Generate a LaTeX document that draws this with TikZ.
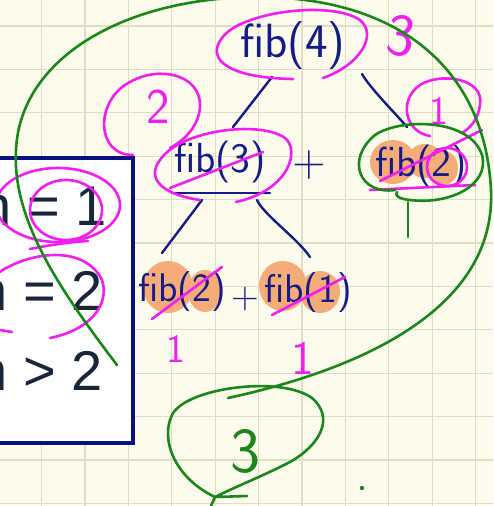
\documentclass[tikz,border=0pt]{standalone}
\usepackage{fontspec}
\newfontfamily\boxfont{Liberation Sans}
\usetikzlibrary{positioning}

\definecolor{paper}{RGB}{253,251,236}
\definecolor{gridtan}{RGB}{224,220,198}
\definecolor{inkblue}{RGB}{22,28,135}
\definecolor{pen}{RGB}{240,30,240}
\definecolor{marker}{RGB}{246,172,120}
\definecolor{leaf}{RGB}{25,135,25}
\definecolor{boxnavy}{RGB}{10,15,130}
\definecolor{boxtext}{RGB}{25,38,58}

\begin{document}
\begin{tikzpicture}[x=1pt, y=-1pt,
hand/.style={text=inkblue, inner sep=0pt, font=\sffamily\fontsize{#1}{#1}\selectfont},
pennote/.style={text=pen, inner sep=0pt, font=\sffamily\fontsize{#1}{#1}\selectfont},
leafnote/.style={text=leaf, inner sep=0pt, font=\sffamily\fontsize{#1}{#1}\selectfont},
bluepen/.style={draw=inkblue, line width=2.4pt, line cap=round, line join=round},
pinkpen/.style={draw=pen, line width=2.6pt, line cap=round, line join=round},
greenpen/.style={draw=leaf, line width=2.6pt, line cap=round, line join=round},
blob/.style={fill=marker},
gridline/.style={draw=gridtan, line width=1.2pt},
boxrow/.style={text=boxtext, inner sep=0pt, anchor=base east, font=\boxfont\fontsize{56}{56}\selectfont}
]
\useasboundingbox (0,0) rectangle (493,506);
\clip (0,0) rectangle (493,506);
\fill[paper] (0,0) rectangle (493,506);

% squared paper
\foreach \gx in {-1.9,41.5,...,500}
  \draw[gridline] (\gx,0) -- (\gx,506);
\foreach \gy in {-17.4,26,...,510}
  \draw[gridline] (0,\gy) -- (493,\gy);

% cases box
\draw[boxnavy, fill=white, line width=4pt] (-10,158) rectangle (133,443);
\node[boxrow] (caseone) at (107,225) {n = 1};
\node[boxrow] (casetwo) at (103,310) {n = 2};
\node[boxrow] (caserest) at (103,390) {n > 2};

% marker highlights
\fill[blob] (393,162) ellipse [x radius=23, y radius=22];
\fill[blob] (425,161) ellipse [x radius=18, y radius=17];
\fill[blob] (444,168) ellipse [x radius=14, y radius=17];
\fill[blob] (168,287) ellipse [x radius=25, y radius=26];
\fill[blob] (205,291) ellipse [x radius=17, y radius=21];
\fill[blob] (283,286) ellipse [x radius=24, y radius=25];
\fill[blob] (320,292) ellipse [x radius=20, y radius=21];

% call tree
\node[hand=48] (fibfour) at (293,46) {fib(4)};
\node[hand=42] (fibthree) at (220,162) {fib(3)};
\node[hand=46] (plustop) at (309,165) {+};
\node[hand=42] (fibtwoR) at (421,166) {fib(2)};
\node[hand=40] (fibtwoL) at (182,292) {fib(2)};
\node[hand=38] (plusbot) at (245,299) {+};
\node[hand=40] (fibone) at (308,293) {fib(1)};

\draw[bluepen] ([shift={(-21,31)}]fibfour.center) -- ([shift={(13,-35)}]fibthree.center);
\draw[bluepen] ([shift={(69,28)}]fibfour.center)
  .. controls +(8,14) and +(-12,-14) .. ([shift={(-14,-39)}]fibtwoR.center);
\draw[bluepen] ([shift={(-48,31)}]fibthree.center) -- ([shift={(50,31)}]fibthree.center);
\draw[bluepen] ([shift={(-18,38)}]fibthree.center) -- ([shift={(-20,-39)}]fibtwoL.center);
\draw[bluepen] ([shift={(37,38)}]fibthree.center)
  .. controls +(6,14) and +(-12,-18) .. ([shift={(2,-36)}]fibone.center);

% pink marks
\draw[pinkpen] (293,79) .. controls (230,78) and (205,60) .. (222,38)
  .. controls (240,12) and (330,0) .. (360,20) .. controls (378,35) and (360,65) .. (323,78);
\node[pennote=60, rotate=-8] (threetop) at (401,36) {3};
\draw[pinkpen] (133,155) .. controls (95,155) and (95,100) .. (130,82)
  .. controls (160,65) and (200,75) .. (200,105) .. controls (200,125) and (185,140) .. (170,148);
\node[pennote=50] (twonote) at (158,107) {2};
\draw[pinkpen] (200,200) .. controls (165,195) and (145,180) .. (160,160)
  .. controls (180,130) and (260,120) .. (285,138) .. controls (300,150) and (290,190) .. (236,202);
\draw[pinkpen] (170,188) -- (263,152);
\draw[pinkpen] (430,136) .. controls (405,132) and (398,100) .. (420,85)
  .. controls (440,72) and (485,78) .. (480,105) .. controls (478,120) and (470,128) .. (462,133);
\node[pennote=40] (onenote) at (439,111) {1};
\draw[pinkpen] (447,167) ellipse [x radius=20, y radius=19];
\draw[pinkpen] (380,181) -- (482,130);
\draw[pinkpen] (370,190) -- (475,185);
\draw[pinkpen] (58,205) ellipse [x radius=62, y radius=37];
\draw[pinkpen] (66,210) ellipse [x radius=36, y radius=30];
\draw[pinkpen] (30,249) .. controls (50,245) and (70,242) .. (88,241);
\draw[pinkpen] (-5,275) .. controls (30,250) and (85,245) .. (102,280)
  .. controls (110,305) and (90,330) .. (50,338);
\draw[pinkpen] (0,330) -- (12,332);
\draw[pinkpen] (152,319) -- (222,267);
\draw[pinkpen] (272,315) -- (345,277);
\node[pennote=40] (oneleft) at (176,349) {1};
\node[pennote=48] (oneright) at (303,358) {1};

% green answer loop
\draw[greenpen] (117,365) .. controls (60,290) and (12,220) .. (16,150)
  .. controls (20,60) and (120,0) .. (250,-3) .. controls (400,-5) and (485,70) .. (491,190)
  .. controls (496,300) and (380,365) .. (228,398);
\draw[greenpen] (215,497) .. controls (175,478) and (160,440) .. (172,415)
  .. controls (185,388) and (280,375) .. (312,398) .. controls (335,418) and (320,445) .. (290,462)
  .. controls (265,475) and (235,487) .. (215,497) -- (247,496);
\draw[greenpen] (215,497) -- (211,506);
\node[leafnote=64] (threeans) at (246,452) {3};
\draw[greenpen] (395,190) .. controls (360,195) and (345,160) .. (375,135)
  .. controls (400,118) and (470,118) .. (482,155) .. controls (490,185) and (450,205) .. (410,200)
  .. controls (400,199) and (394,196) .. (397,192);
\draw[greenpen] (408,202) -- (408,237);
\fill[leaf] (362,488) circle [radius=2.2];

\end{tikzpicture}
\end{document}
